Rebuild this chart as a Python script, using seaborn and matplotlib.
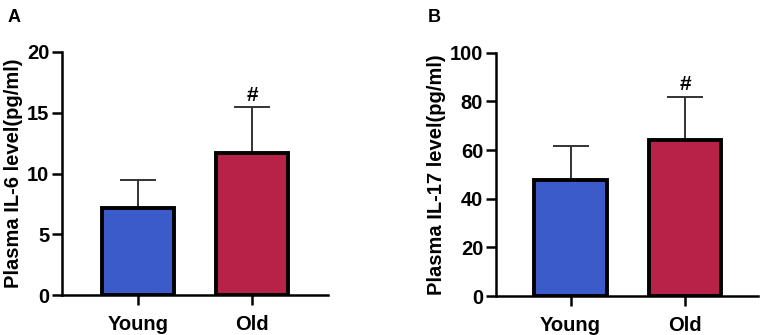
import matplotlib
matplotlib.use("Agg")
import matplotlib.pyplot as plt
import seaborn as sns
import pandas as pd
import numpy as np

groups = ["Young", "Old"]
il6_mean = [7.2, 11.7]
il6_sd = [2.25, 3.75]
il17_mean = [47.5, 64.2]
il17_sd = [14.1, 17.7]
sig_marks = ["", "#"]
colors = ["#3A5BC9", "#B82148"]

sns.set_theme(style="ticks")
plt.rcParams['font.family'] = ['Liberation Sans', 'DejaVu Sans']
plt.rcParams['font.weight'] = 'bold'
plt.rcParams['text.color'] = 'black'
plt.rcParams['axes.labelcolor'] = 'black'
plt.rcParams['xtick.color'] = 'black'
plt.rcParams['ytick.color'] = 'black'

fig = plt.figure(figsize=(7.65, 3.35), dpi=100)
axA = fig.add_axes([0.081, 0.119, 0.348, 0.726])
axB = fig.add_axes([0.648, 0.116, 0.343, 0.727])

def panel(ax, means, sds, ylim, yticks, ylabel, xlim, off):
    df = pd.DataFrame({"group": groups, "value": means})
    sns.barplot(data=df, x="group", y="value", hue="group", palette=colors,
                order=groups, hue_order=groups, width=0.63, legend=False,
                saturation=1, edgecolor="black", linewidth=2.8,
                errorbar=None, ax=ax, zorder=3)
    xs = np.arange(len(groups))
    ax.errorbar(xs, means, yerr=[np.zeros(len(sds)), sds], fmt="none",
                ecolor="#333333", elinewidth=1.4, capsize=13, capthick=1.4, zorder=2)
    for x, m, s, t in zip(xs, means, sds, sig_marks):
        if t:
            ax.text(x, m + s + off, t, ha="center", va="bottom",
                    fontsize=15, fontweight="bold", color="black")
    ax.set_ylim(*ylim)
    ax.set_yticks(yticks)
    ax.set_xlim(*xlim)
    ax.set_xlabel("")
    ax.set_ylabel(ylabel, fontsize=14.5, fontweight="bold", labelpad=3, color="black")
    for s in ["top", "right"]:
        ax.spines[s].set_visible(False)
    for s in ["left", "bottom"]:
        ax.spines[s].set_linewidth(1.8)
        ax.spines[s].set_color("black")
    ax.tick_params(axis="both", length=7, width=1.8, color="black",
                   labelcolor="black", labelsize=14.5, pad=2)
    ax.tick_params(axis="x", pad=7)
    for lab in ax.get_xticklabels() + ax.get_yticklabels():
        lab.set_fontweight("bold")

panel(axA, il6_mean, il6_sd, (0, 20), [0, 5, 10, 15, 20],
      "Plasma IL-6 level(pg/ml)", (-0.667, 1.667), 0.2)
panel(axB, il17_mean, il17_sd, (0, 100), [0, 20, 40, 60, 80, 100],
      "Plasma IL-17 level(pg/ml)", (-0.653, 1.636), 1.0)

fig.text(8 / 765, 1 - 17 / 335, "A", fontsize=13, fontweight="bold", va="center")
fig.text(428 / 765, 1 - 17 / 335, "B", fontsize=13, fontweight="bold", va="center")

fig.savefig("out.png", dpi=100)
